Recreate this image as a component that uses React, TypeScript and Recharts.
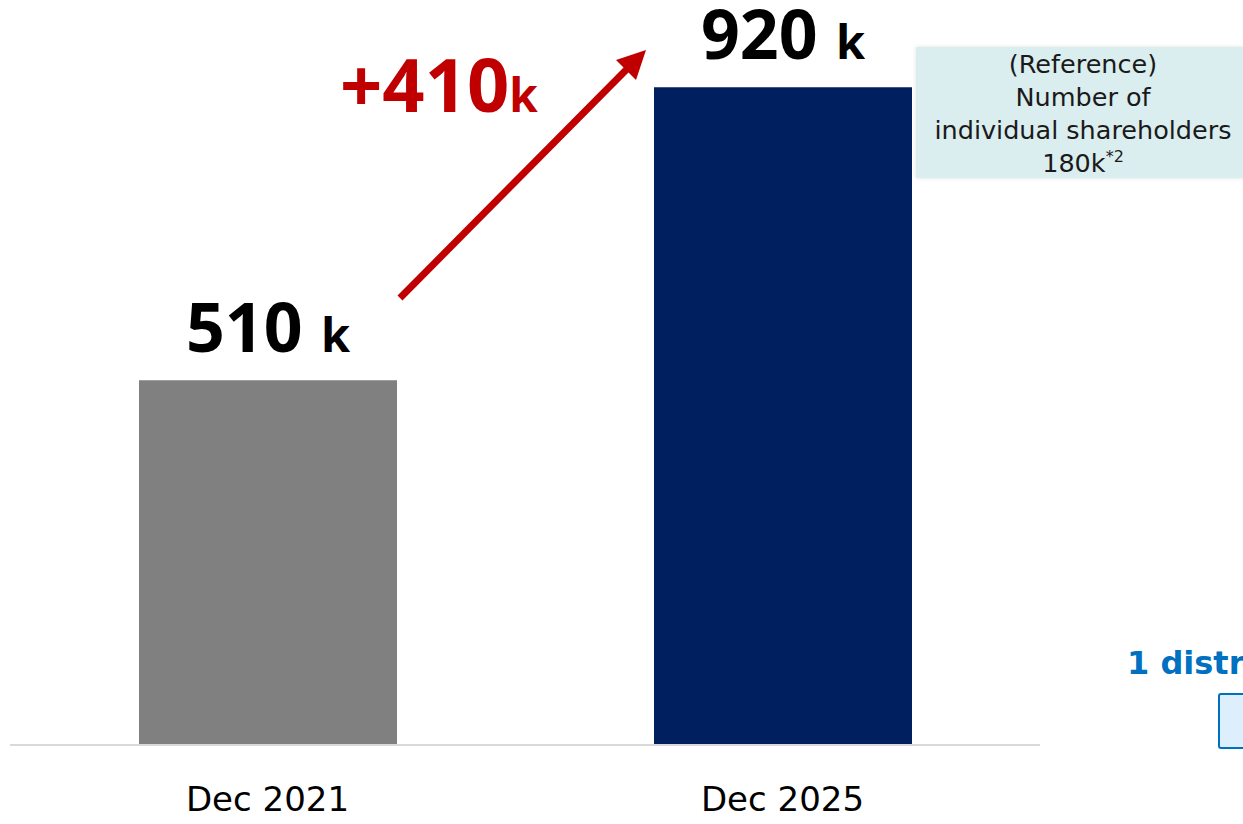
import { BarChart, Bar, XAxis, YAxis, Cell, LabelList } from "recharts";

const periods = ["Dec 2021", "Dec 2025"];
const holders = [510, 920]; // thousands
const refLines = ["(Reference)", "Number of", "individual shareholders"];
const refValue = 180;

const BAR_COLORS = ["#808080", "#001F5F"];
const data = periods.map((p, i) => ({ period: p, value: holders[i] }));
const growth = holders[1] - holders[0];

const NUM_FONT = "'Noto Sans', sans-serif";
const TXT_FONT = "'DejaVu Sans', Verdana, sans-serif";

function ValueLabel(props: any) {
  const { x, y, width, value } = props;
  return (
    <text
      x={x + width / 2}
      y={y - 28}
      textAnchor="middle"
      fontFamily={NUM_FONT}
      fontWeight={700}
      fill="#000"
    >
      <tspan fontSize={68}>{value}</tspan>
      <tspan fontSize={47} dx={6}>
        {" k"}
      </tspan>
    </text>
  );
}

function PeriodTick(props: any) {
  const { x, y, payload } = props;
  return (
    <text
      x={x}
      y={y + 64}
      textAnchor="middle"
      fontFamily={TXT_FONT}
      fontSize={34}
      fill="#000"
    >
      {payload.value}
    </text>
  );
}

export default function App() {
  return (
    <div
      style={{
        position: "fixed",
        left: 0,
        top: 0,
        width: 1243,
        height: 824,
        overflow: "hidden",
        background: "#fff",
      }}
    >
      <div style={{ position: "absolute", left: 0, top: 0 }}>
        <BarChart
          width={1243}
          height={824}
          data={data}
          margin={{ top: 30, right: 203, left: 10, bottom: 49 }}
        >
          <YAxis hide domain={[0, 1000]} />
          <XAxis
            dataKey="period"
            height={30}
            tickLine={false}
            tickSize={0}
            axisLine={{ stroke: "#D9D9D9", strokeWidth: 2 }}
            tick={PeriodTick}
          />
          <Bar dataKey="value" barSize={258} isAnimationActive={false}>
            {data.map((d, i) => (
              <Cell key={d.period} fill={BAR_COLORS[i]} />
            ))}
            <LabelList dataKey="value" content={ValueLabel} />
          </Bar>
        </BarChart>
      </div>

      {/* growth annotation */}
      <svg
        width={1243}
        height={824}
        style={{ position: "absolute", left: 0, top: 0, pointerEvents: "none" }}
      >
        <line x1={400} y1={298} x2={628} y2={68} stroke="#C00000" strokeWidth={7} />
        <polygon points="646,50 636,80 616,60" fill="#C00000" />
        <text x={340} y={112} fontFamily={NUM_FONT} fontWeight={700} fill="#C00000">
          <tspan fontSize={74}>+{growth}</tspan>
          <tspan fontSize={46}>k</tspan>
        </text>
      </svg>

      {/* reference box */}
      <div
        style={{
          position: "absolute",
          left: 916,
          top: 47,
          width: 340,
          height: 131,
          background: "#DAEDEF",
          boxShadow: "0 0 4px rgba(0,0,0,0.12)",
        }}
      />
      <div
        style={{
          position: "absolute",
          left: 916,
          top: 48,
          width: 334,
          textAlign: "center",
          fontFamily: TXT_FONT,
          fontSize: 25.5,
          lineHeight: "33px",
          color: "#1a1a1a",
          whiteSpace: "nowrap",
        }}
      >
        {refLines.map((l) => (
          <div key={l}>{l}</div>
        ))}
        <div>
          {refValue}k
          <span style={{ fontSize: 16, position: "relative", top: -10 }}>*2</span>
        </div>
      </div>

      {/* cut-off side panel */}
      <div
        style={{
          position: "absolute",
          left: 1127,
          top: 641,
          fontFamily: TXT_FONT,
          fontWeight: 700,
          fontSize: 32,
          color: "#0070C0",
          whiteSpace: "nowrap",
          lineHeight: "44px",
        }}
      >
        1 distribution
      </div>
      <div
        style={{
          position: "absolute",
          left: 1218,
          top: 693,
          width: 60,
          height: 52,
          border: "2px solid #0070C0",
          borderRadius: 3,
          background: "#DDEFFC",
        }}
      />
    </div>
  );
}
